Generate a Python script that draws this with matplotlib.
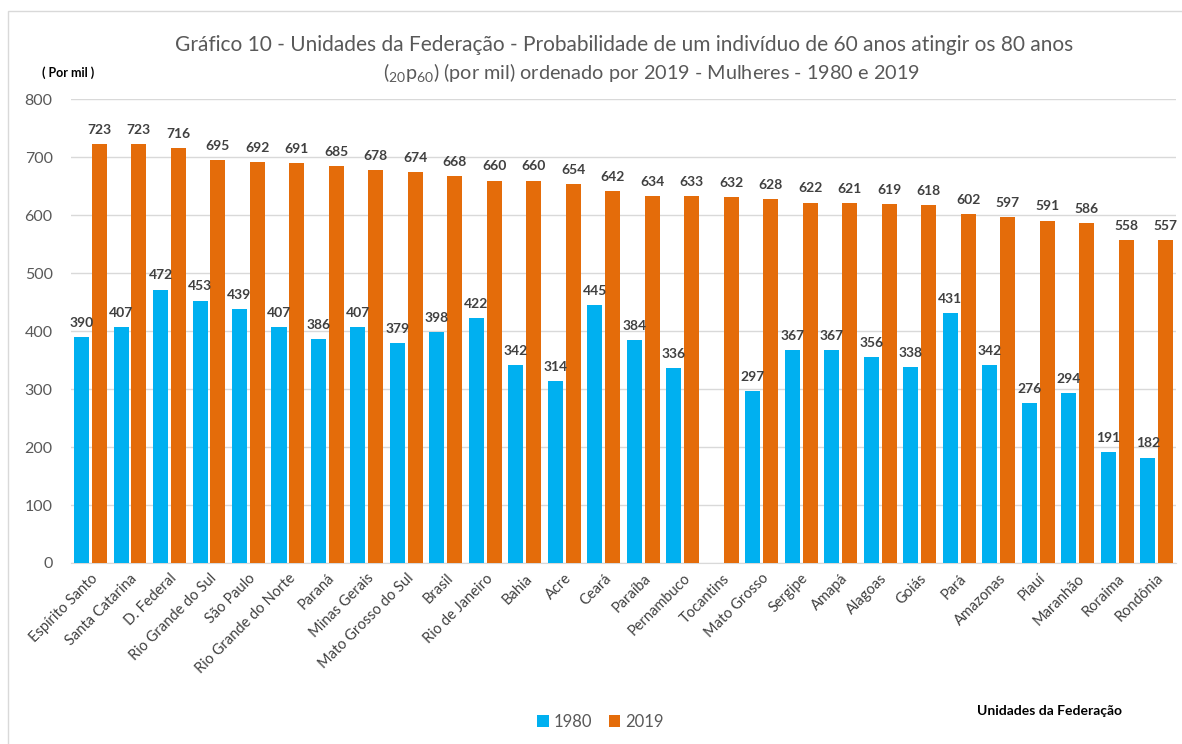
import numpy as np
import matplotlib
matplotlib.use("Agg")
import matplotlib.pyplot as plt
from matplotlib.patches import Rectangle

plt.rcParams["font.family"] = ["Lato", "DejaVu Sans"]
plt.rcParams["mathtext.fontset"] = "custom"
plt.rcParams["mathtext.rm"] = "Lato"
plt.rcParams["mathtext.it"] = "Lato"

ESTADOS = [
    "Espírito Santo", "Santa Catarina", "D. Federal", "Rio Grande do Sul",
    "São Paulo", "Rio Grande do Norte", "Paraná", "Minas Gerais",
    "Mato Grosso do Sul", "Brasil", "Rio de Janeiro", "Bahia", "Acre",
    "Ceará", "Paraíba", "Pernambuco", "Tocantins", "Mato Grosso", "Sergipe",
    "Amapá", "Alagoas", "Goiás", "Pará", "Amazonas", "Piauí", "Maranhão",
    "Roraima", "Rondônia",
]
V1980 = [390, 407, 472, 453, 439, 407, 386, 407, 379, 398, 422, 342, 314,
         445, 384, 336, np.nan, 297, 367, 367, 356, 338, 431, 342, 276, 294,
         191, 182]
V2019 = [723, 723, 716, 695, 692, 691, 685, 678, 674, 668, 660, 660, 654,
         642, 634, 633, 632, 628, 622, 621, 619, 618, 602, 597, 591, 586,
         558, 557]
YTICKS = [0, 100, 200, 300, 400, 500, 600, 700, 800]

AZUL = "#00B0F0"
LARANJA = "#E46C0A"
CINZA = "#595959"
ROTULO = "#404040"

fig = plt.figure(figsize=(11.82, 7.44), dpi=100)
# moldura do gráfico (lados direito e inferior ficam fora da imagem)
fig.patches.append(Rectangle((8 / 1182, -0.02), 1.0, 1 - 11 / 744 + 0.02,
                             transform=fig.transFigure, fill=False,
                             edgecolor="#D9D9D9", linewidth=1))
ax = fig.add_axes([0.0598, 0.2433, 0.9355, 0.623])

x = np.arange(len(ESTADOS))
w = 0.38
d = 0.225
b1 = ax.bar(x - d, V1980, w, color=AZUL, label="1980", zorder=3)
b2 = ax.bar(x + d, V2019, w, color=LARANJA, label="2019", zorder=3)

for xi, v in zip(x, V1980):
    if not np.isnan(v):
        ax.text(xi - d, v + 14, f"{v:.0f}", ha="center", va="bottom",
                fontsize=10, fontweight="bold", color=ROTULO)
for xi, v in zip(x, V2019):
    ax.text(xi + d, v + 14, f"{v:.0f}", ha="center", va="bottom",
            fontsize=10, fontweight="bold", color=ROTULO)

ax.set_xlim(-0.5, len(ESTADOS) - 0.5)
ax.set_ylim(0, 800)
ax.set_yticks(YTICKS)
ax.tick_params(axis="y", length=0, labelsize=11.5, labelcolor=CINZA, pad=13)
ax.tick_params(axis="x", length=0, labelsize=10.5, labelcolor=ROTULO, pad=6)
ax.set_xticks(x)
ax.set_xticklabels(ESTADOS, rotation=45, ha="right", rotation_mode="anchor")
ax.grid(axis="y", color="#D9D9D9", linewidth=1, zorder=0)
for s in ["top", "right", "left"]:
    ax.spines[s].set_visible(False)
ax.spines["bottom"].set_color("#D9D9D9")

fig.text(0.528, 0.9395,
         "Gráfico 10 - Unidades da Federação - Probabilidade de um indivíduo de 60 anos atingir os 80 anos",
         ha="center", va="center", fontsize=15, color=CINZA)
fig.text(0.551, 0.903,
         r"$\mathregular{(_{20}p_{60})}$ (por mil) ordenado por 2019 - Mulheres - 1980 e 2019",
         ha="center", va="center", fontsize=14.3, color=CINZA)
fig.text(0.058, 0.903, "( Por mil )", ha="center", va="center", fontsize=9,
         fontweight="bold", color="black")
fig.text(0.888, 0.044, "Unidades da Federação", ha="center", va="center",
         fontsize=10, fontweight="bold", color="black")

fig.legend(handles=[b1, b2], loc="center", bbox_to_anchor=(0.508, 0.030), ncol=2,
           frameon=False, fontsize=12, handlelength=0.7, handleheight=0.7,
           handletextpad=0.3, columnspacing=1.0, labelcolor=CINZA)

fig.savefig("out.png", dpi=100)
